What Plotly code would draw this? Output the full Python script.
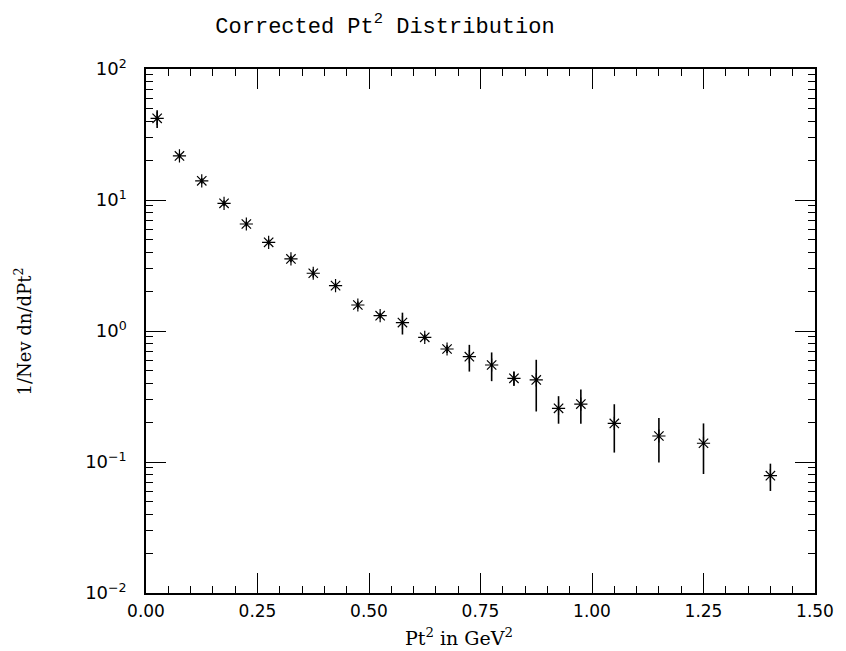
import plotly.graph_objects as go

# Data
pt2 = [0.025, 0.075, 0.125, 0.175, 0.225, 0.275, 0.325, 0.375, 0.425, 0.475,
       0.525, 0.575, 0.625, 0.675, 0.725, 0.775, 0.825, 0.875, 0.925, 0.975,
       1.05, 1.15, 1.25, 1.40]
dndpt2 = [42.0, 21.7, 14.0, 9.44, 6.56, 4.75, 3.55, 2.76, 2.22, 1.58,
          1.31, 1.16, 0.895, 0.729, 0.637, 0.550, 0.435, 0.423, 0.257, 0.277,
          0.197, 0.158, 0.139, 0.0786]
err = [6.5, 1.0, 0.7, 0.5, 0.3, 0.25, 0.2, 0.2, 0.12, 0.1,
       0.07, 0.22, 0.05, 0.05, 0.147, 0.136, 0.055, 0.18, 0.061, 0.081,
       0.079, 0.059, 0.058, 0.0185]

y_tickvals = [0.01, 0.1, 1, 10, 100]
y_ticktext = ["10<sup>−2</sup>", "10<sup>−1</sup>", "10<sup>0</sup>", "10<sup>1</sup>", "10<sup>2</sup>"]
x_tickvals = [0.0, 0.25, 0.5, 0.75, 1.0, 1.25, 1.5]
x_ticktext = ["0.00", "0.25", "0.50", "0.75", "1.00", "1.25", "1.50"]

y_minor = [m * 10 ** e for e in range(-2, 2) for m in range(2, 10)]

fig = go.Figure()
fig.add_trace(go.Scatter(
    x=pt2, y=dndpt2, mode="markers",
    marker=dict(symbol="asterisk-open", size=11, color="black",
                line=dict(color="black", width=1.2)),
    error_y=dict(type="data", array=err, visible=True, color="black",
                 thickness=1.6, width=0),
    showlegend=False,
))

fig.update_layout(
    width=846, height=651,
    margin=dict(l=146, r=23, t=69, b=58),
    paper_bgcolor="white", plot_bgcolor="white",
    title=dict(text="Corrected Pt<sup>2</sup> Distribution",
               font=dict(family="Liberation Mono", size=22, color="black"),
               x=385 / 846, xanchor="center", xref="container",
               y=1 - 25 / 651, yanchor="middle", yref="container"),
    font=dict(family="DejaVu Sans", color="black"),
)

fig.update_xaxes(
    range=[0, 1.5], showgrid=False, zeroline=False,
    showline=True, linecolor="black", linewidth=1.5, mirror="allticks",
    ticks="inside", ticklen=20, tickwidth=1.2, tickcolor="black",
    tickmode="array", tickvals=x_tickvals, ticktext=x_ticktext,
    tickfont=dict(family="DejaVu Sans", size=17, color="black"),
    ticklabelstandoff=2,
    minor=dict(ticks="inside", ticklen=7, tickwidth=1.2, tickcolor="black",
               dtick=0.05, tick0=0, showgrid=False),
)
fig.update_yaxes(
    type="log", range=[-2, 2], showgrid=False, zeroline=False,
    showline=True, linecolor="black", linewidth=1.5, mirror="allticks",
    ticks="inside", ticklen=20, tickwidth=1.2, tickcolor="black",
    tickmode="array", tickvals=y_tickvals, ticktext=y_ticktext,
    tickfont=dict(family="DejaVu Sans", size=18, color="black"),
    ticklabelstandoff=14,
    minor=dict(ticks="inside", ticklen=7, tickwidth=1.2, tickcolor="black",
               tickmode="array", tickvals=y_minor, showgrid=False),
)

fig.add_annotation(
    text="Pt<sup>2</sup> in GeV<sup>2</sup>", xref="paper", yref="paper",
    x=(463 - 146) / 677, y=0, yshift=-44, xanchor="center", yanchor="middle",
    showarrow=False, font=dict(family="DejaVu Serif", size=19, color="black"),
)
fig.add_annotation(
    text="1/Nev dn/dPt<sup>2</sup>", xref="paper", yref="paper",
    x=(22 - 146) / 677, y=0.5, xanchor="center", yanchor="middle",
    textangle=-90, showarrow=False,
    font=dict(family="DejaVu Serif", size=18, color="black"),
)

fig.write_html("out.html")
